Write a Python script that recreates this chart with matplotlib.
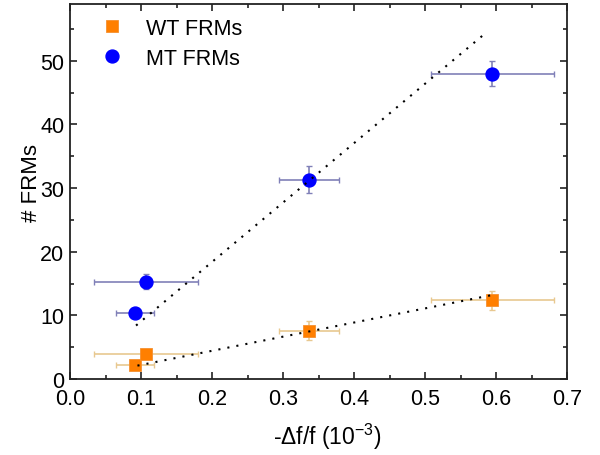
import matplotlib
matplotlib.use("Agg")
import matplotlib.pyplot as plt
from matplotlib.ticker import MultipleLocator

plt.rcParams['font.family'] = ['Liberation Sans', 'DejaVu Sans']
plt.rcParams['mathtext.fontset'] = 'custom'
plt.rcParams['mathtext.rm'] = 'Liberation Sans'

# Data
x_vals = [0.092, 0.107, 0.337, 0.595]
x_err = [0.027, 0.073, 0.042, 0.086]
wt_y = [2.2, 4.0, 7.6, 12.4]
wt_yerr = [0.5, 0.5, 1.5, 1.5]
mt_y = [10.3, 15.3, 31.3, 48.0]
mt_yerr = [0.5, 1.2, 2.1, 2.0]

wt_fit_x = [0.095, 0.595]
wt_fit_y = [2.1, 13.2]
mt_fit_x = [0.093, 0.588]
mt_fit_y = [8.4, 54.6]

fig = plt.figure(figsize=(6, 4.56), dpi=100)
ax = fig.add_axes([70/600, 1-380/456, 497/600, 375.5/456])

orange = '#FF7F00'
blue = '#0000FF'

ax.errorbar(x_vals, wt_y, xerr=x_err, yerr=wt_yerr, fmt='none',
            ecolor='#E8C890', elinewidth=1.2, capsize=2.5, capthick=1.0, zorder=2)
ax.errorbar(x_vals, mt_y, xerr=x_err, yerr=mt_yerr, fmt='none',
            ecolor='#8080B8', elinewidth=1.2, capsize=2.5, capthick=1.0, zorder=2)

ax.plot(x_vals, wt_y, 's', color=orange, markersize=8, markeredgecolor='#F59030',
        markeredgewidth=0.6, zorder=3, label='WT FRMs')
ax.plot(x_vals, mt_y, 'o', color=blue, markersize=9.3, markeredgecolor=blue,
        zorder=3, label='MT FRMs')

ax.plot(wt_fit_x, wt_fit_y, color='black', linewidth=1.5, linestyle=(0, (1, 3.4)),
        dash_capstyle='butt', zorder=4)
ax.plot(mt_fit_x, mt_fit_y, color='black', linewidth=1.5, linestyle=(0, (1, 3.4)),
        dash_capstyle='butt', zorder=4)

ax.set_xlim(0, 0.7)
ax.set_ylim(0, 59)
ax.xaxis.set_major_locator(MultipleLocator(0.1))
ax.xaxis.set_minor_locator(MultipleLocator(0.05))
ax.yaxis.set_major_locator(MultipleLocator(10))
ax.yaxis.set_minor_locator(MultipleLocator(5))
ax.xaxis.set_major_formatter(matplotlib.ticker.FormatStrFormatter('%.1f'))
ax.tick_params(which='both', direction='in', top=True, right=True, labelsize=15.5,
               width=1.2, color='#222222')
ax.tick_params(which='major', length=5)
ax.tick_params(which='minor', length=3)
ax.tick_params(axis='x', pad=6.5)
ax.tick_params(axis='y', pad=4)
for s in ax.spines.values():
    s.set_linewidth(1.3)
    s.set_color('#222222')

ax.set_xlabel(r'-$\Delta$f/f (10$^{-3}$)', fontsize=16.5)
ax.xaxis.set_label_coords((327-70)/497, -(422-380)/375.5)
ax.set_ylabel('# FRMs', fontsize=16)
ax.yaxis.set_label_coords(-(70-42)/497, (380-183)/375.5)

ax.legend(loc='upper left', bbox_to_anchor=(90/600, 1-19/456), bbox_transform=fig.transFigure,
          frameon=False, fontsize=15.5, handlelength=2.0, handletextpad=0.6,
          labelspacing=0.4, borderpad=0, borderaxespad=0, numpoints=1)

fig.savefig('out.png', dpi=100)
